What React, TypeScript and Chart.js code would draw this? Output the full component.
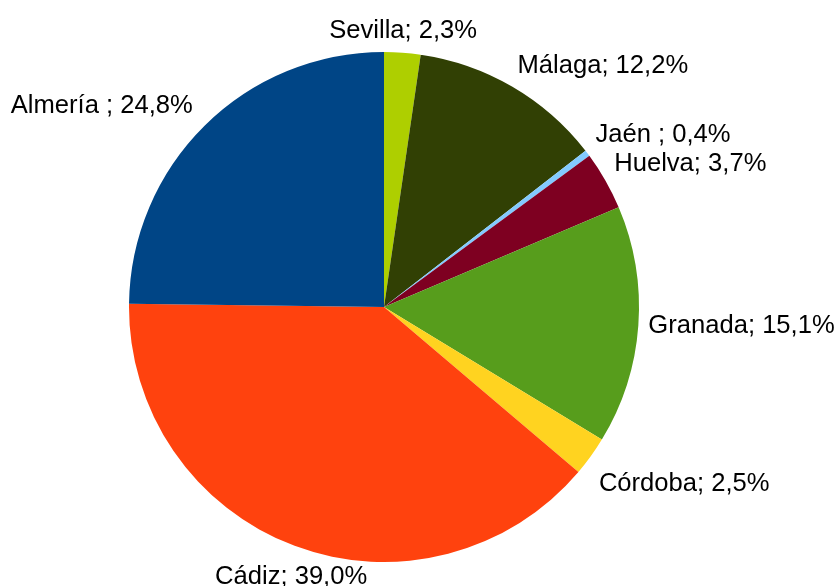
import React, { useEffect, useRef } from "react";
import { Chart, registerables } from "chart.js";

Chart.register(...registerables);

const categories = ["Sevilla", "Málaga", "Jaén", "Huelva", "Granada", "Córdoba", "Cádiz", "Almería"];
const values = [2.3, 12.2, 0.4, 3.7, 15.1, 2.5, 39.0, 24.8];
const labelTexts = [
  "Sevilla; 2,3%",
  "Málaga; 12,2%",
  "Jaén ; 0,4%",
  "Huelva; 3,7%",
  "Granada; 15,1%",
  "Córdoba; 2,5%",
  "Cádiz; 39,0%",
  "Almería ; 24,8%",
];
const colors = ["#aecf00", "#314004", "#83caff", "#7e0021", "#579d1c", "#ffd320", "#ff420e", "#004586"];

const FONT = '25.6px "Liberation Sans", Arial, sans-serif';

const outsideLabels = {
  id: "outsideLabels",
  afterDatasetsDraw(chart: any) {
    const ctx = chart.ctx;
    const meta = chart.getDatasetMeta(0);
    ctx.save();
    ctx.font = FONT;
    ctx.fillStyle = "#000000";
    meta.data.forEach((arc: any, i: number) => {
      const { x, y, startAngle, endAngle, outerRadius } = arc.getProps(
        ["x", "y", "startAngle", "endAngle", "outerRadius"],
        true
      );
      const mid = (startAngle + endAngle) / 2;
      const hx = Math.cos(mid);
      const vy = Math.sin(mid);
      const d = 10;
      let px = x + hx * (outerRadius + d);
      const py = y + vy * (outerRadius + d);
      let align: CanvasTextAlign = "center";
      if (hx > 0.4) align = "left";
      else if (hx < -0.4) {
        align = "right";
        px -= 5;
      }
      let base: CanvasTextBaseline = "middle";
      let oy = 0;
      if (vy < -0.4) {
        base = "alphabetic";
        oy = -5;
      } else if (vy > 0.4) {
        base = "top";
        oy = 9;
      }
      ctx.textAlign = align;
      ctx.textBaseline = base;
      ctx.fillText(labelTexts[i], px, py + oy);
    });
    ctx.restore();
  },
};

export default function App() {
  const ref = useRef<HTMLCanvasElement>(null);
  useEffect(() => {
    if (!ref.current) return;
    const chart = new Chart(ref.current, {
      type: "pie",
      data: {
        labels: categories,
        datasets: [
          {
            data: values,
            backgroundColor: colors,
            borderWidth: 0,
            hoverOffset: 0,
            offset: 0,
          },
        ],
      },
      options: {
        responsive: false,
        animation: false,
        layout: { padding: { left: 129, top: 52, right: 200, bottom: 24 } },
        plugins: {
          legend: { display: false },
          tooltip: { enabled: false },
        },
      },
      plugins: [outsideLabels],
    });
    return () => chart.destroy();
  }, []);
  return (
    <div style={{ position: "fixed", left: 0, top: 0, width: 839, height: 586, background: "#fff" }}>
      <canvas ref={ref} width={839} height={586} style={{ display: "block", width: 839, height: 586 }} />
    </div>
  );
}
